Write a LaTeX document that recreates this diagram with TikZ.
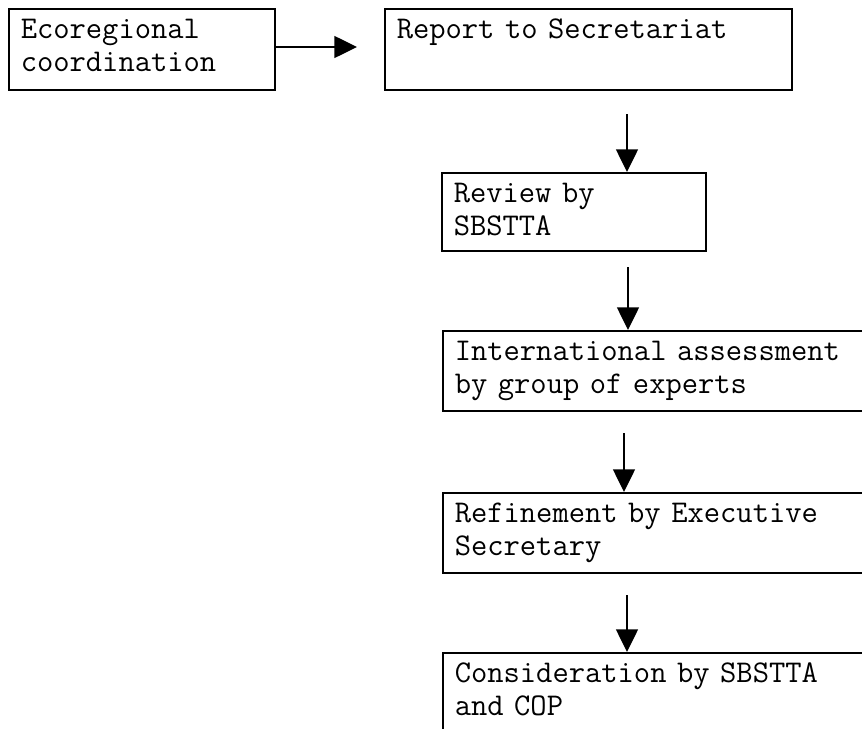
\documentclass[tikz,border=0pt]{standalone}
\usetikzlibrary{arrows.meta}
\tikzset{
    stepbox/.style={draw=black, line width=1.3pt, rectangle, anchor=north west, align=left,
        inner xsep=0.36cm, inner ysep=0.18cm, text height=0.72cm,
        font=\ttfamily\fontsize{27}{28}\selectfont},
    arr/.style={line width=1.2pt, -{Triangle[width=0.66cm, length=0.68cm]}}
}
\begin{document}
\begin{tikzpicture}[x=0.03cm, y=-0.03cm]
            \useasboundingbox (0,0) rectangle (862,729);
            \clip (0,0) rectangle (862,729);
            \node[stepbox, text width=7.26cm, text depth=1.35cm] (eco) at (8,8) {Ecoregional\\coordination};
            \node[stepbox, text width=11.49cm, text depth=1.35cm] (report) at (384,8) {Report to Secretariat};
            \node[stepbox, text width=7.2cm, text depth=1.26cm] (review) at (441,172) {Review by\\SBSTTA};
            \node[stepbox, text width=18cm, text depth=1.32cm] (assess) at (442,330) {International assessment\\by group of experts};
            \node[stepbox, text width=18cm, text depth=1.32cm] (refine) at (442,492) {Refinement by Executive\\Secretary};
            \node[stepbox, text width=18cm, text depth=3cm] (consid) at (442,652) {Consideration by SBSTTA\\and COP};
            \coordinate (e1) at (357,47);
            \coordinate (s2) at (627,114);
            \coordinate (s3) at (628,267);
            \coordinate (s4) at (624,433);
            \coordinate (s5) at (627,595);
            \draw[arr] (eco.east |- e1) -- (e1);
            \draw[arr] (s2) -- (s2 |- review.north);
            \draw[arr] (s3) -- (s3 |- assess.north);
            \draw[arr] (s4) -- (s4 |- refine.north);
            \draw[arr] (s5) -- (s5 |- consid.north);
        \end{tikzpicture}
\end{document}
